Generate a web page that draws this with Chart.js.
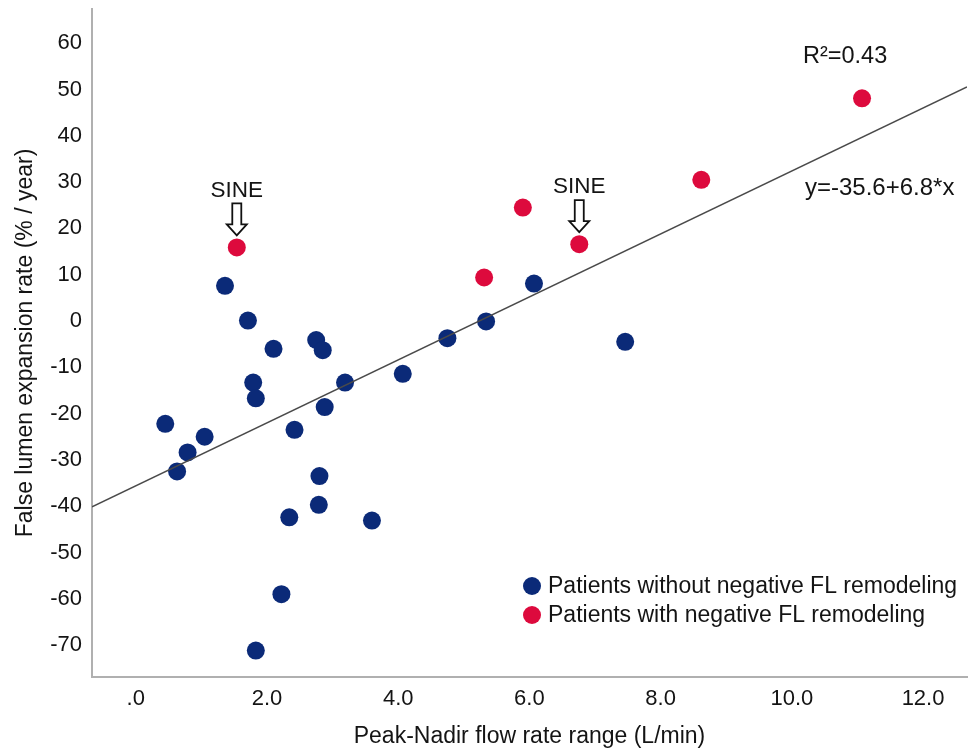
<!DOCTYPE html>
<html>
<head>
<meta charset="utf-8">
<script src="https://cdn.jsdelivr.net/npm/chart.js@4.4.1/dist/chart.umd.min.js"></script>
<style>
  html, body { margin: 0; padding: 0; background: #fff; }
</style>
</head>
<body>
<canvas id="chart" width="976" height="751"></canvas>
<script>
// Patients without negative FL remodeling (blue)
const blue_x = [1.36, 1.71, 2.10, 2.75, 2.85, 1.79, 1.83, 3.19, 2.88, 4.07, 0.45, 1.05, 0.79,
                0.63, 2.42, 2.80, 2.79, 2.34, 3.60, 2.22, 1.83, 4.75, 5.34, 6.07, 7.46]
const blue_y = [7.6, 0.1, -6.0, -4.1, -6.3, -13.3, -16.7, -13.3, -18.6, -11.4, -22.2, -25.0, -28.4,
                -32.5, -23.5, -33.5, -39.7, -42.4, -43.1, -59.0, -71.2, -3.7, -0.1, 8.1, -4.5]

// Patients with negative FL remodeling (red)
const red_x = [1.54, 5.31, 5.90, 6.76, 8.62, 11.07]
const red_y = [15.9, 9.4, 24.5, 16.6, 30.5, 48.1]
const red_sine = [true, false, false, true, false, false]

// Fit line y = a + b*x
const fit_a = -35.6
const fit_b = 6.8
const fit_label = 'y=-35.6+6.8*x'
const r2_label = 'R\u00B2=0.43'

const x_min = -0.667, x_max = 12.67
const y_min = -76.9, y_max = 67.4
const x_ticks = [0, 2, 4, 6, 8, 10, 12]
const x_tick_labels = ['.0', '2.0', '4.0', '6.0', '8.0', '10.0', '12.0']
const y_ticks = [60, 50, 40, 30, 20, 10, 0, -10, -20, -30, -40, -50, -60, -70]

const series_labels = ['Patients without negative FL remodeling', 'Patients with negative FL remodeling']
const blue_color = '#0b2a78'
const red_color = '#dd0a3d'
const FONT = '"Liberation Sans", Arial, sans-serif'
const TEXT = '#141414'

function toPoints(xs, ys) {
    return xs.map((v, i) => ({ x: v, y: ys[i] }))
}

function drawHollowArrow(ctx, px, top, tip) {
    const shaft = 4.5, head = 10, headLen = 11
    ctx.beginPath()
    ctx.moveTo(px - shaft, top)
    ctx.lineTo(px + shaft, top)
    ctx.lineTo(px + shaft, tip - headLen)
    ctx.lineTo(px + head, tip - headLen)
    ctx.lineTo(px, tip)
    ctx.lineTo(px - head, tip - headLen)
    ctx.lineTo(px - shaft, tip - headLen)
    ctx.closePath()
    ctx.fillStyle = '#fff'
    ctx.fill()
    ctx.lineWidth = 1.8
    ctx.strokeStyle = '#111'
    ctx.stroke()
}

// text annotations + legend drawn inside the plot
const annotate = {
    id: 'annotate',
    afterDatasetsDraw(chart) {
        const { ctx, chartArea: a, scales: { x, y } } = chart
        ctx.save()
        ctx.textBaseline = 'middle'

        // SINE markers
        ctx.font = '22.5px ' + FONT
        red_x.forEach((v, i) => {
            if (!red_sine[i]) return
            const px = x.getPixelForValue(v)
            const py = y.getPixelForValue(red_y[i])
            ctx.fillStyle = TEXT
            ctx.textAlign = 'center'
            ctx.fillText('SINE', px, py - 57)
            drawHollowArrow(ctx, px, py - 44, py - 12)
        })

        ctx.fillStyle = TEXT
        ctx.textAlign = 'left'
        ctx.font = '23.5px ' + FONT
        ctx.fillText(r2_label, a.left + 711, a.top + 48)
        ctx.font = '24px ' + FONT
        ctx.fillText(fit_label, a.left + 713, a.top + 179)

        // legend
        ctx.font = '23px ' + FONT
        const colors = [blue_color, red_color]
        const lx = a.left + 440, ly = a.bottom - 91
        series_labels.forEach((lab, i) => {
            const cy = ly + i * 29
            ctx.beginPath()
            ctx.arc(lx, cy, 9, 0, Math.PI * 2)
            ctx.fillStyle = colors[i]
            ctx.fill()
            ctx.fillStyle = TEXT
            ctx.fillText(lab, lx + 16, cy + 1)
        })
        ctx.restore()
    }
}

const chart = new Chart(document.getElementById('chart'), {
    type: 'scatter',
    data: {
        datasets: [{
            type: 'line',
            data: [{ x: x_min, y: fit_a + fit_b * x_min }, { x: x_max, y: fit_a + fit_b * x_max }],
            borderColor: '#4a4a4a',
            borderWidth: 1.6,
            pointRadius: 0,
            fill: false
        }, {
            label: series_labels[0],
            data: toPoints(blue_x, blue_y),
            backgroundColor: blue_color,
            borderWidth: 0,
            pointRadius: 9,
            pointHoverRadius: 9
        }, {
            label: series_labels[1],
            data: toPoints(red_x, red_y),
            backgroundColor: red_color,
            borderWidth: 0,
            pointRadius: 9,
            pointHoverRadius: 9
        }]
    },
    options: {
        responsive: false,
        animation: false,
        events: [],
        layout: { padding: { top: 9, right: 4, left: 0, bottom: 0 } },
        plugins: {
            legend: { display: false },
            tooltip: { enabled: false }
        },
        scales: {
            x: {
                type: 'linear',
                min: x_min,
                max: x_max,
                afterBuildTicks: s => { s.ticks = x_ticks.map(v => ({ value: v })) },
                afterFit: s => { s.height = 74; s.paddingLeft = 0; s.paddingRight = 0 },
                grid: { display: true, drawOnChartArea: false, drawTicks: false },
                border: { display: true, color: '#b0b0b0', width: 2 },
                ticks: {
                    padding: 9,
                    color: TEXT,
                    font: { family: FONT, size: 22 },
                    callback: (v, i) => x_tick_labels[i]
                },
                title: {
                    display: true,
                    text: 'Peak-Nadir flow rate range (L/min)',
                    color: TEXT,
                    font: { family: FONT, size: 23 },
                    padding: { top: 0, bottom: 1 }
                }
            },
            y: {
                type: 'linear',
                min: y_min,
                max: y_max,
                afterBuildTicks: s => { s.ticks = y_ticks.map(v => ({ value: v })) },
                afterFit: s => { s.width = 92; s.paddingTop = 0; s.paddingBottom = 0 },
                grid: { display: true, drawOnChartArea: false, drawTicks: false },
                border: { display: true, color: '#b0b0b0', width: 2 },
                ticks: {
                    padding: 10,
                    color: TEXT,
                    font: { family: FONT, size: 22 }
                },
                title: {
                    display: true,
                    text: 'False lumen expansion rate (% / year)',
                    color: TEXT,
                    font: { family: FONT, size: 23 },
                    padding: { top: 12, bottom: 0 }
                }
            }
        }
    },
    plugins: [annotate]
})
</script>
</body>
</html>
